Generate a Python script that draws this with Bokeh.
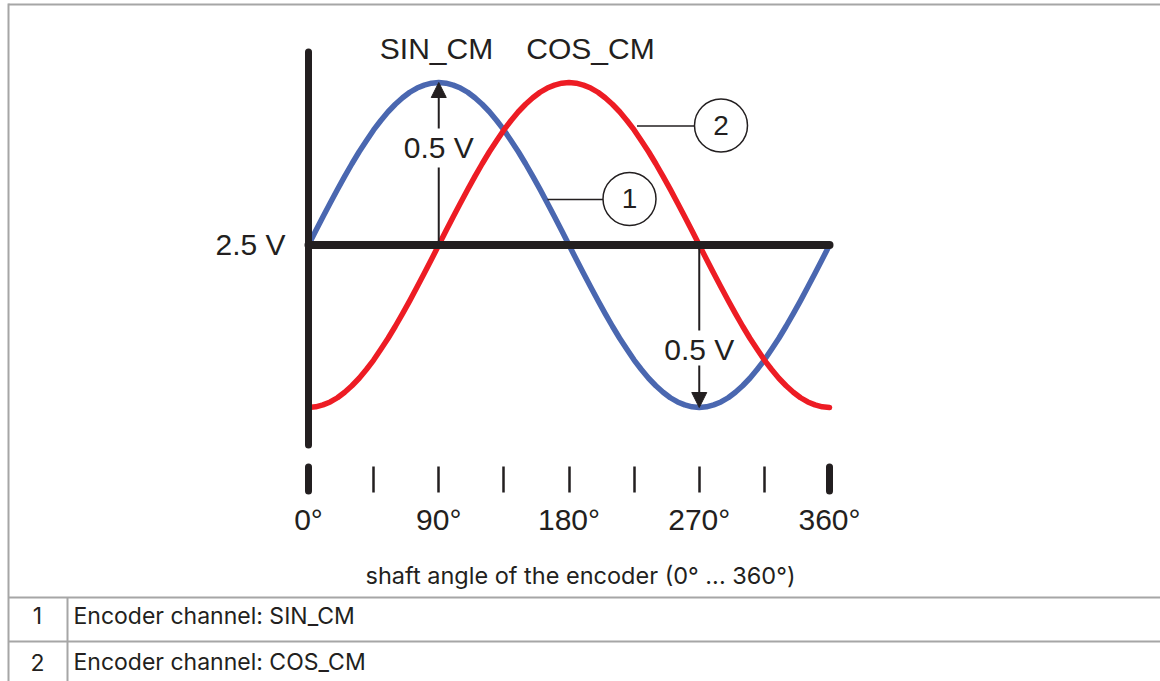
from bokeh.plotting import figure
from bokeh.models import Range1d, LinearAxis, FixedTicker, Arrow, NormalHead
from bokeh.embed import file_html
from bokeh.resources import INLINE
from bokeh.core.properties import value

# ---------------- data ----------------
angle_deg = list(range(0, 365, 5))
sin_cm = [2.500, 2.544, 2.587, 2.629, 2.671, 2.711, 2.750, 2.787, 2.821, 2.854,
          2.883, 2.910, 2.933, 2.953, 2.970, 2.983, 2.992, 2.998, 3.000,
          2.998, 2.992, 2.983, 2.970, 2.953, 2.933, 2.910, 2.883, 2.854, 2.821,
          2.787, 2.750, 2.711, 2.671, 2.629, 2.587, 2.544, 2.500,
          2.456, 2.413, 2.371, 2.329, 2.289, 2.250, 2.213, 2.179, 2.146, 2.117,
          2.090, 2.067, 2.047, 2.030, 2.017, 2.008, 2.002, 2.000,
          2.002, 2.008, 2.017, 2.030, 2.047, 2.067, 2.090, 2.117, 2.146, 2.179,
          2.213, 2.250, 2.289, 2.329, 2.371, 2.413, 2.456, 2.500]
cos_cm = [2.000, 2.002, 2.008, 2.017, 2.030, 2.047, 2.067, 2.090, 2.117, 2.146,
          2.179, 2.213, 2.250, 2.289, 2.329, 2.371, 2.413, 2.456, 2.500,
          2.544, 2.587, 2.629, 2.671, 2.711, 2.750, 2.787, 2.821, 2.854, 2.883,
          2.910, 2.933, 2.953, 2.970, 2.983, 2.992, 2.998, 3.000,
          2.998, 2.992, 2.983, 2.970, 2.953, 2.933, 2.910, 2.883, 2.854, 2.821,
          2.787, 2.750, 2.711, 2.671, 2.629, 2.587, 2.544, 2.500,
          2.456, 2.413, 2.371, 2.329, 2.289, 2.250, 2.213, 2.179, 2.146, 2.117,
          2.090, 2.067, 2.047, 2.030, 2.017, 2.008, 2.002, 2.000]
tick_deg = [0, 90, 180, 270, 360]
tick_labels = ["0°", "90°", "180°", "270°", "360°"]
minor_tick_deg = [45, 135, 225, 315]
baseline_v = 2.5
baseline_label = "2.5 V"
amp_label = "0.5 V"
curve_names = ["SIN_CM", "COS_CM"]
callout_nums = ["1", "2"]
table_nums = ["1", "2"]
table_rows = ["Encoder channel: SIN_CM", "Encoder channel: COS_CM"]
axis_title = "shaft angle of the encoder (0° ... 360°)"

# ---------------- layout / style ----------------
W, H = 1160, 681
PAGE = 0
X0_PX, SX = 308.0, 521.0 / 360.0      # page px of 0 deg, px per degree
Y0_PX, SY = 244.5, 325.0              # page px of baseline, px per volt
BLACK = "#231f20"
BLUE = "#4a67b0"
RED = "#ed1c24"
GRAY = "#a6a6a6"
ARIAL = "Liberation Sans"
VOICE = "Inter"


def dx(px):
    return (px - X0_PX) / SX


def vy(py):
    return baseline_v + (Y0_PX - py) / SY


p = figure(width=W, height=H, output_backend="svg", toolbar_location=None,
           x_range=Range1d(dx(PAGE), dx(PAGE + W)),
           y_range=Range1d(vy(PAGE + H), vy(PAGE)),
           x_axis_type=None, y_axis_type=None, min_border=0,
           outline_line_color=None, background_fill_color="white",
           border_fill_color="white")
p.grid.visible = False

# frame / table borders
p.segment(x0=[dx(8), dx(8), dx(8), dx(8), dx(67)],
          y0=[vy(4), vy(3), vy(597), vy(641), vy(597)],
          x1=[dx(1160), dx(8), dx(1160), dx(1160), dx(67)],
          y1=[vy(4), vy(681), vy(597), vy(641), vy(681)],
          line_color=GRAY, line_width=2)

# curves
p.line(angle_deg, sin_cm, line_color=BLUE, line_width=5.5, line_cap="round", line_join="round")
p.line(angle_deg, cos_cm, line_color=RED, line_width=5.5, line_cap="round", line_join="round")

# black axes
p.segment(x0=[tick_deg[0]], y0=[vy(51.5)], x1=[tick_deg[0]], y1=[vy(444.5)],
          line_color=BLACK, line_width=7, line_cap="round")
p.segment(x0=[tick_deg[0]], y0=[baseline_v], x1=[tick_deg[-1]], y1=[baseline_v],
          line_color=BLACK, line_width=8, line_cap="round")

# x axis with ticks
ax = LinearAxis(ticker=FixedTicker(ticks=tick_deg, minor_ticks=minor_tick_deg),
                fixed_location=vy(466),
                major_label_overrides={t: l for t, l in zip(tick_deg, tick_labels)})
ax.axis_line_color = None
ax.major_tick_in = 0
ax.major_tick_out = 26
ax.minor_tick_in = 0
ax.minor_tick_out = 26
ax.major_tick_line_width = 2.5
ax.minor_tick_line_width = 2.5
ax.major_tick_line_color = BLACK
ax.minor_tick_line_color = BLACK
ax.major_label_text_font = ARIAL
ax.major_label_text_font_size = "30px"
ax.major_label_text_color = BLACK
ax.major_label_standoff = 10
ax.axis_label = axis_title
ax.axis_label_text_font = VOICE
ax.axis_label_text_font_size = "23.5px"
ax.axis_label_text_font_style = "normal"
ax.axis_label_text_color = BLACK
ax.axis_label_standoff = 22
p.add_layout(ax, "below")

# thick end ticks
p.segment(x0=[tick_deg[0], tick_deg[-1]], y0=[vy(466.5)] * 2,
          x1=[tick_deg[0], tick_deg[-1]], y1=[vy(490.5)] * 2,
          line_color=BLACK, line_width=7, line_cap="round")

# amplitude arrows
i_max = sin_cm.index(max(sin_cm))
i_min = sin_cm.index(min(sin_cm))
x_up, x_dn = angle_deg[i_max], angle_deg[i_min]
p.segment(x0=[x_up, x_dn], y0=[baseline_v, baseline_v], x1=[x_up, x_dn],
          y1=[vy(167), vy(330)], line_color=BLACK, line_width=2)
for xa, ys, ye in [(x_up, vy(128), sin_cm[i_max]), (x_dn, vy(365), sin_cm[i_min])]:
    p.add_layout(Arrow(end=NormalHead(size=15, fill_color=BLACK, line_color=BLACK, line_width=1),
                       x_start=xa, y_start=ys, x_end=xa, y_end=ye,
                       line_color=BLACK, line_width=2))

TXT = dict(text_baseline="middle", text_color=BLACK)
p.text(x=[x_up, x_dn], y=[vy(146.5), vy(349)], text=[amp_label, amp_label],
       text_align="center", text_font=value(ARIAL), text_font_size="30px", **TXT)

# curve names and baseline label
p.text(x=[dx(436), dx(590)], y=[vy(48), vy(48)], text=curve_names,
       text_align="center", text_font=value(ARIAL), text_font_size="30px", **TXT)
p.text(x=[dx(285)], y=[vy(244)], text=[baseline_label],
       text_align="right", text_font=value(ARIAL), text_font_size="30px", **TXT)

# callouts
p.segment(x0=[dx(547), dx(636.5)], y0=[vy(199), vy(125.5)],
          x1=[dx(602.5), dx(694)], y1=[vy(199), vy(125.5)],
          line_color=BLACK, line_width=1.5)
p.scatter(x=[dx(629), dx(720.5)], y=[vy(198.5), vy(125)], marker="circle", size=53,
          fill_color="white", line_color=BLACK, line_width=1.5)
p.text(x=[dx(629), dx(720.5)], y=[vy(197.5), vy(125)], text=callout_nums,
       text_align="center", text_font=value(ARIAL), text_font_size="28px", **TXT)

# table
p.text(x=[dx(37)] * 2, y=[vy(615), vy(661.5)], text=table_nums,
       text_align="center", text_font=value(VOICE), text_font_size="23px", **TXT)
p.text(x=[dx(73)] * 2, y=[vy(615), vy(661.5)], text=table_rows,
       text_align="left", text_font=value(VOICE), text_font_size="23px", **TXT)

open("out.html", "w").write(file_html(p, INLINE))
